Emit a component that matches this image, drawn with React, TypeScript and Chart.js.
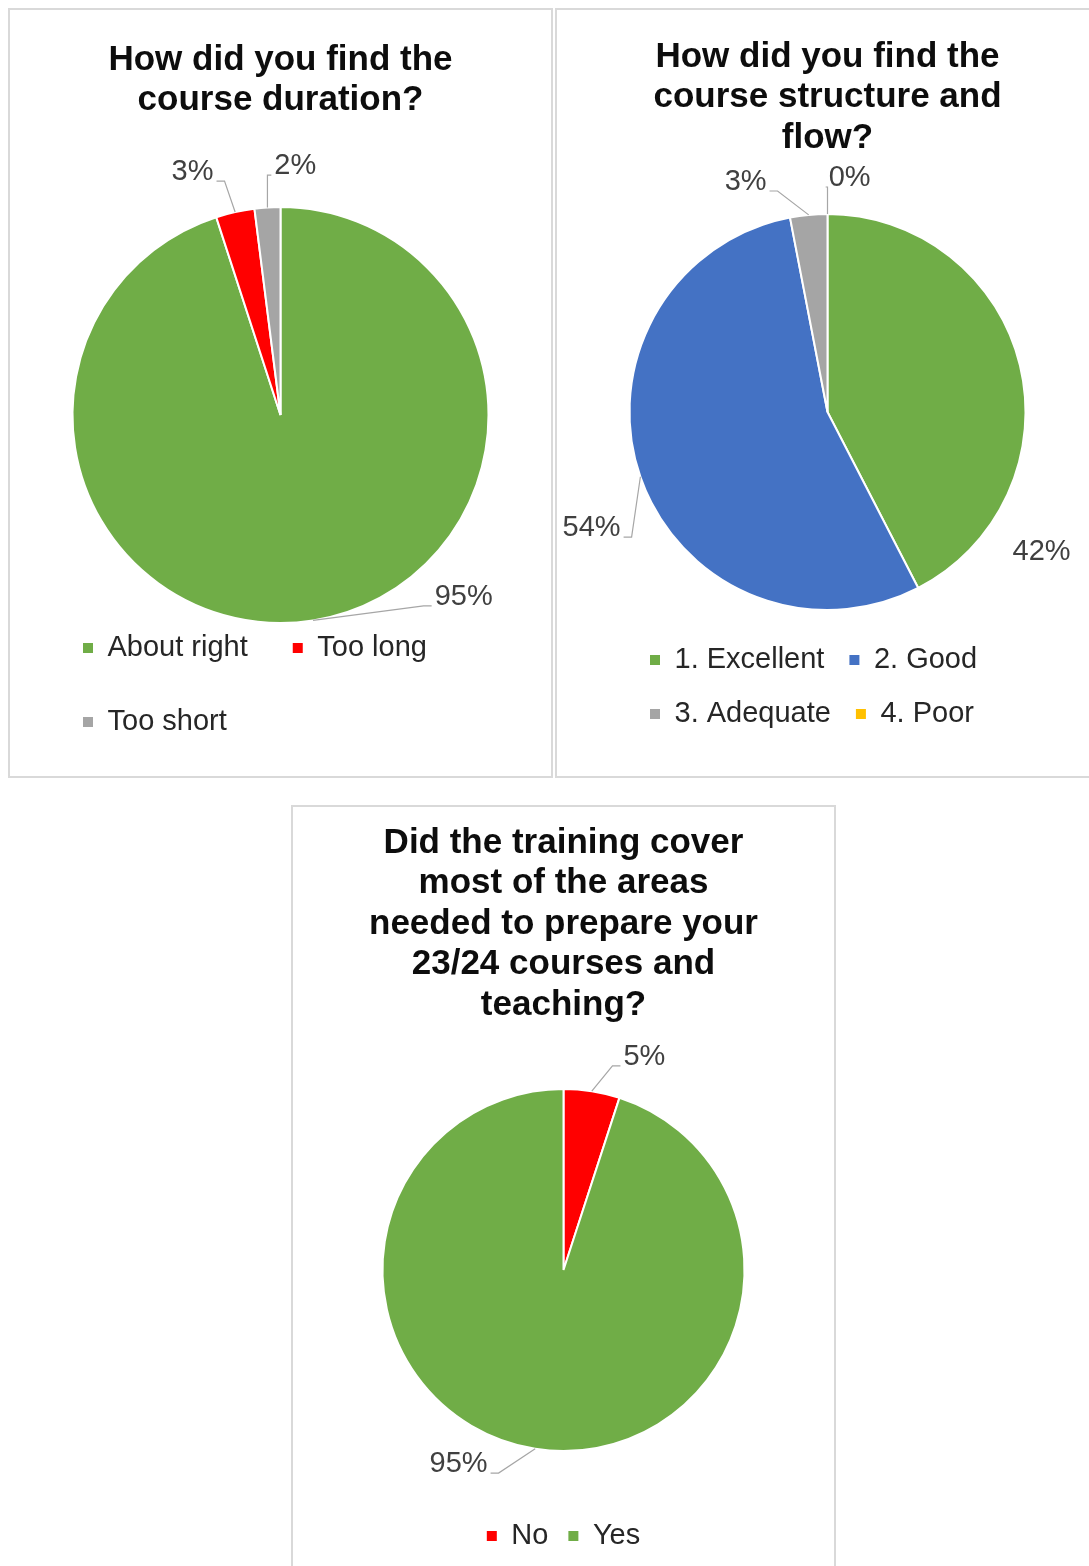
import React, { useEffect, useRef } from "react";
import { Chart, registerables } from "chart.js";

Chart.register(...registerables);

// ---------- data ----------
const durationLabels = ["About right", "Too long", "Too short"];
const durationValues = [95, 3, 2];

const structureLabels = ["1. Excellent", "2. Good", "3. Adequate", "4. Poor"];
const structureValues = [42, 54, 3, 0];

const coverageLabels = ["No", "Yes"];
const coverageValues = [5, 95];

// ---------- styles ----------
const FONT = "'Liberation Sans', Arial, sans-serif";
const GREEN = "#70AD47";
const RED = "#FF0000";
const GRAY = "#A5A5A5";
const BLUE = "#4472C4";
const GOLD = "#FFC000";

// label placement: [angle clockwise from top (deg), distance in radii, leader line]
const durationPlacement = [
  [134.8, 1.241, true],
  [340.1, 1.242, true],
  [3.4, 1.199, true],
];
const structurePlacement = [
  [123.2, 1.292, false],
  [243.8, 1.328, true],
  [340.4, 1.233, true],
  [5.4, 1.187, true],
];
const coveragePlacement = [
  [20.8, 1.259, true],
  [208.4, 1.219, true],
];

const outLabels = {
  id: "outLabels",
  afterDatasetsDraw(chart: any, _args: any, opts: any) {
    const meta = chart.getDatasetMeta(0);
    const data = chart.data.datasets[0].data as number[];
    const ctx = chart.ctx as CanvasRenderingContext2D;
    ctx.save();
    ctx.font = `${opts.size}px ${FONT}`;
    ctx.textAlign = "center";
    ctx.textBaseline = "middle";
    meta.data.forEach((el: any, i: number) => {
      const { x, y, startAngle, endAngle, outerRadius } = el.getProps(
        ["x", "y", "startAngle", "endAngle", "outerRadius"],
        true
      );
      const [deg, dist, leader] = opts.placement[i];
      const a = ((deg - 90) * Math.PI) / 180;
      const lx = x + Math.cos(a) * outerRadius * dist;
      const ly = y + Math.sin(a) * outerRadius * dist;
      const text = data[i] + "%";
      const w = ctx.measureText(text).width;
      if (leader) {
        const mid = (startAngle + endAngle) / 2;
        const sx = x + Math.cos(mid) * outerRadius;
        const sy = y + Math.sin(mid) * outerRadius;
        const right = lx > sx;
        const ex = right ? lx - w / 2 - 3 : lx + w / 2 + 3;
        const ey = ly + 9;
        const bx = right ? Math.max(sx, ex - 8) : Math.min(sx, ex + 8);
        ctx.beginPath();
        ctx.moveTo(sx, sy);
        ctx.lineTo(bx, ey);
        ctx.lineTo(ex, ey);
        ctx.strokeStyle = "#A6A6A6";
        ctx.lineWidth = 1.2;
        ctx.stroke();
      }
      ctx.fillStyle = "#404040";
      ctx.fillText(text, lx, ly);
    });
    ctx.restore();
  },
};

type PanelCfg = {
  title: string[];
  labels: string[];
  values: number[];
  colors: string[];
  placement: any[];
  radius: number;
  titleTop: number;
  titleBottom: number;
  side: number;
  bottom: number;
  legendPad: number;
  legendAlign: "start" | "center" | "end";
};

function makeConfig(p: PanelCfg): any {
  return {
    type: "pie",
    data: {
      labels: p.labels,
      datasets: [
        {
          data: p.values,
          backgroundColor: p.colors,
          borderColor: "#FFFFFF",
          borderWidth: 2,
          radius: p.radius,
        },
      ],
    },
    options: {
      responsive: false,
      animation: false,
      layout: { padding: { left: p.side, right: p.side, top: 0, bottom: p.bottom } },
      plugins: {
        title: {
          display: true,
          text: p.title,
          color: "#0D0D0D",
          font: { family: FONT, size: 35, weight: "bold", lineHeight: 1.16 },
          padding: { top: p.titleTop, bottom: p.titleBottom },
        },
        legend: {
          display: true,
          position: "bottom",
          align: p.legendAlign,
          labels: {
            boxWidth: 10,
            boxHeight: 10,
            padding: p.legendPad,
            color: "#262626",
            font: { family: FONT, size: 29 },
            generateLabels: (chart: any) => {
              const base = (Chart as any).overrides.pie.plugins.legend.labels.generateLabels;
              return base(chart).map((l: any) => ({ ...l, lineWidth: 0 }));
            },
          },
        },
        tooltip: { enabled: false },
        outLabels: { size: 29, placement: p.placement },
      },
    },
    plugins: [outLabels],
  };
}

function PiePanel({ cfg, left, top }: { cfg: PanelCfg; left: number; top: number }) {
  const ref = useRef<HTMLCanvasElement | null>(null);
  useEffect(() => {
    if (!ref.current) return;
    const chart = new Chart(ref.current, makeConfig(cfg));
    return () => chart.destroy();
  }, [cfg]);
  return (
    <div
      style={{
        position: "absolute",
        left,
        top,
        width: 545,
        height: 770,
        border: "2px solid #D9D9D9",
        boxSizing: "border-box",
        background: "#FFFFFF",
      }}
    >
      <canvas ref={ref} width={541} height={766} style={{ display: "block" }} />
    </div>
  );
}

const panel1: PanelCfg = {
  title: ["How did you find the", "course duration?"],
  labels: durationLabels,
  values: durationValues,
  colors: [GREEN, RED, GRAY],
  placement: durationPlacement,
  radius: 208,
  titleTop: 29.7,
  titleBottom: 120.6,
  side: 28,
  bottom: 29.5,
  legendPad: 45,
  legendAlign: "start",
};

const panel2: PanelCfg = {
  title: ["How did you find the", "course structure and", "flow?"],
  labels: structureLabels,
  values: structureValues,
  colors: [GREEN, BLUE, GRAY, GOLD],
  placement: structurePlacement,
  radius: 198,
  titleTop: 26.7,
  titleBottom: 45,
  side: 68,
  bottom: 37.5,
  legendPad: 25,
  legendAlign: "start",
};

const panel3: PanelCfg = {
  title: [
    "Did the training cover",
    "most of the areas",
    "needed to prepare your",
    "23/24 courses and",
    "teaching?",
  ],
  labels: coverageLabels,
  values: coverageValues,
  colors: [RED, GREEN],
  placement: coveragePlacement,
  radius: 181,
  titleTop: 15.7,
  titleBottom: 12.8,
  side: 0,
  bottom: 12.5,
  legendPad: 20,
  legendAlign: "center",
};

export default function App() {
  return (
    <div
      style={{
        position: "absolute",
        left: 0,
        top: 0,
        width: 1089,
        height: 1566,
        overflow: "hidden",
        background: "#FFFFFF",
      }}
    >
      <PiePanel cfg={panel1} left={8} top={8} />
      <PiePanel cfg={panel2} left={555} top={8} />
      <PiePanel cfg={panel3} left={291} top={805} />
    </div>
  );
}
